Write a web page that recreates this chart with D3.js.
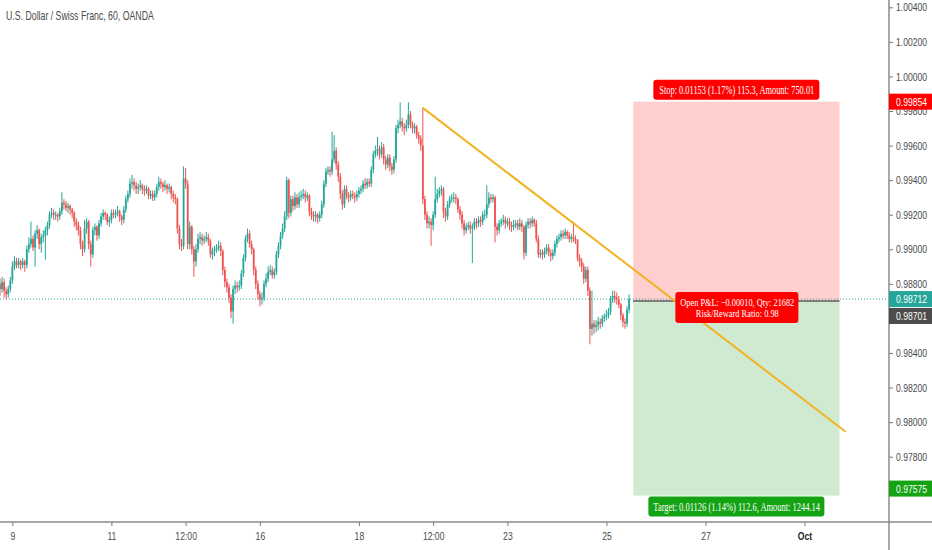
<!DOCTYPE html>
<html>
<head>
<meta charset="utf-8">
<script src="https://cdn.jsdelivr.net/npm/d3@7"></script>
<style>
  body { margin: 0; background: #fff; }
  svg { display: block; }
</style>
</head>
<body>
<div id="chart"></div>
<script>
// Script globals
const CHART_WIDTH = 932
const CHART_HEIGHT = 550
const PLOT_RIGHT = 889
const AXIS_Y = 522
const AXIS_FONT = "'Liberation Sans', Arial, sans-serif"
const LABEL_FONT = "'Liberation Serif', 'DejaVu Serif', serif"
const NARROW = 0.75   // the chart font is a narrow one, squeeze Liberation Sans to match

const title = "U.S. Dollar / Swiss Franc, 60, OANDA"

// hourly candles, open = previous close
const firstOpen = 0.9880
const closes = [
  0.9877,0.9881,0.9876,0.9874,0.9877,0.9882,0.9890,0.9893,0.9891,0.9893,
  0.9891,0.9893,0.9891,0.9900,0.9903,0.9906,0.9901,0.9909,0.9911,0.9903,
  0.9907,0.9908,0.9911,0.9914,0.9920,0.9921,0.9920,0.9920,0.9919,0.9922,
  0.9927,0.9926,0.9924,0.9925,0.9923,0.9921,0.9916,0.9914,0.9911,0.9903,
  0.9900,0.9912,0.9916,0.9903,0.9897,0.9911,0.9913,0.9908,0.9915,0.9919,
  0.9921,0.9920,0.9916,0.9917,0.9921,0.9920,0.9921,0.9922,0.9919,0.9917,
  0.9923,0.9929,0.9932,0.9938,0.9939,0.9937,0.9935,0.9936,0.9937,0.9935,
  0.9934,0.9935,0.9931,0.9932,0.9930,0.9932,0.9936,0.9939,0.9938,0.9936,
  0.9937,0.9935,0.9936,0.9932,0.9930,0.9929,0.9912,0.9903,0.9902,0.9941,
  0.9938,0.9903,0.9913,0.9900,0.9893,0.9900,0.9906,0.9907,0.9905,0.9906,
  0.9907,0.9905,0.9897,0.9899,0.9900,0.9901,0.9902,0.9899,0.9888,0.9881,
  0.9878,0.9872,0.9864,0.9877,0.9879,0.9878,0.9879,0.9886,0.9895,0.9906,
  0.9909,0.9903,0.9900,0.9888,0.9880,0.9874,0.9871,0.9872,0.9880,0.9883,
  0.9887,0.9888,0.9885,0.9887,0.9897,0.9902,0.9908,0.9912,0.9919,0.9940,
  0.9921,0.9929,0.9925,0.9930,0.9926,0.9930,0.9931,0.9932,0.9930,0.9931,
  0.9922,0.9920,0.9919,0.9920,0.9918,0.9920,0.9926,0.9938,0.9945,0.9946,
  0.9945,0.9952,0.9957,0.9949,0.9942,0.9932,0.9926,0.9935,0.9931,0.9930,
  0.9932,0.9931,0.9930,0.9932,0.9934,0.9935,0.9938,0.9937,0.9939,0.9938,
  0.9946,0.9955,0.9957,0.9958,0.9955,0.9959,0.9952,0.9949,0.9953,0.9948,
  0.9946,0.9952,0.9970,0.9972,0.9974,0.9971,0.9970,0.9972,0.9978,0.9972,
  0.9970,0.9971,0.9966,0.9964,0.9960,0.9929,0.9920,0.9915,0.9916,0.9914,
  0.9920,0.9929,0.9932,0.9934,0.9935,0.9922,0.9919,0.9926,0.9929,0.9930,
  0.9930,0.9929,0.9923,0.9920,0.9915,0.9911,0.9913,0.9914,0.9912,0.9913,
  0.9916,0.9915,0.9917,0.9916,0.9920,0.9920,0.9926,0.9930,0.9929,0.9930,
  0.9913,0.9911,0.9915,0.9916,0.9917,0.9915,0.9916,0.9914,0.9913,0.9914,
  0.9915,0.9913,0.9915,0.9913,0.9898,0.9914,0.9916,0.9915,0.9917,0.9915,
  0.9906,0.9897,0.9898,0.9897,0.9899,0.9901,0.9898,0.9896,0.9898,0.9903,
  0.9906,0.9907,0.9909,0.9908,0.9910,0.9908,0.9906,0.9907,0.9906,0.9905,
  0.9895,0.9893,0.9890,0.9883,0.9888,0.9876,0.9854,0.9857,0.9855,0.9856,
  0.9858,0.9857,0.9860,0.9861,0.9862,0.9864,0.9871,0.9873,0.9872,0.9871,
  0.9868,0.9862,0.9858,0.9857,0.9865,0.98712
]
const highs = [
  0.9883,0.9884,0.9883,0.9878,0.9879,0.9884,0.9893,0.9896,0.9895,0.9895,
  0.9894,0.9895,0.9894,0.9902,0.9907,0.9916,0.9908,0.9911,0.9914,0.9912,
  0.9909,0.9911,0.9913,0.9916,0.9922,0.9924,0.9923,0.9922,0.9921,0.9924,
  0.9933,0.9929,0.9928,0.9927,0.9926,0.9924,0.9922,0.9918,0.9916,0.9913,
  0.9905,0.9917,0.9918,0.9917,0.9905,0.9913,0.9915,0.9914,0.9917,0.9921,
  0.9923,0.9922,0.9921,0.9919,0.9923,0.9923,0.9923,0.9925,0.9923,0.9920,
  0.9925,0.9931,0.9934,0.9941,0.9943,0.9941,0.9939,0.9938,0.9940,0.9938,
  0.9937,0.9937,0.9936,0.9934,0.9934,0.9934,0.9938,0.9942,0.9941,0.9939,
  0.9940,0.9938,0.9938,0.9937,0.9934,0.9932,0.9930,0.9914,0.9906,0.9948,
  0.9947,0.9940,0.9916,0.9914,0.9902,0.9903,0.9909,0.9910,0.9909,0.9908,
  0.9910,0.9909,0.9906,0.9901,0.9902,0.9903,0.9905,0.9904,0.9900,0.9890,
  0.9883,0.9880,0.9874,0.9879,0.9882,0.9881,0.9882,0.9888,0.9897,0.9908,
  0.9912,0.9911,0.9905,0.9901,0.9890,0.9882,0.9876,0.9875,0.9882,0.9886,
  0.9890,0.9891,0.9890,0.9889,0.9899,0.9904,0.9910,0.9915,0.9922,0.9942,
  0.9941,0.9931,0.9931,0.9933,0.9932,0.9933,0.9934,0.9935,0.9934,0.9933,
  0.9932,0.9924,0.9922,0.9922,0.9921,0.9922,0.9928,0.9940,0.9947,0.9948,
  0.9948,0.9968,0.9966,0.9959,0.9951,0.9944,0.9934,0.9937,0.9937,0.9933,
  0.9934,0.9934,0.9933,0.9934,0.9936,0.9937,0.9940,0.9941,0.9941,0.9941,
  0.9948,0.9957,0.9960,0.9965,0.9960,0.9962,0.9961,0.9954,0.9955,0.9955,
  0.9950,0.9954,0.9972,0.9975,0.9985,0.9976,0.9973,0.9975,0.9985,0.9980,
  0.9974,0.9973,0.9972,0.9968,0.9966,0.9982,0.9931,0.9922,0.9919,0.9918,
  0.9922,0.9942,0.9935,0.9936,0.9937,0.9936,0.9924,0.9928,0.9931,0.9932,
  0.9933,0.9932,0.9930,0.9925,0.9922,0.9917,0.9915,0.9916,0.9916,0.9915,
  0.9918,0.9918,0.9919,0.9919,0.9922,0.9923,0.9937,0.9933,0.9932,0.9932,
  0.9931,0.9915,0.9917,0.9918,0.9920,0.9919,0.9918,0.9918,0.9916,0.9917,
  0.9917,0.9917,0.9918,0.9917,0.9914,0.9916,0.9918,0.9918,0.9919,0.9918,
  0.9917,0.9908,0.9900,0.9900,0.9901,0.9903,0.9903,0.9900,0.9900,0.9905,
  0.9908,0.9909,0.9911,0.9911,0.9912,0.9911,0.9910,0.9909,0.9916,0.9908,
  0.9906,0.9897,0.9895,0.9892,0.9890,0.9890,0.9878,0.9876,0.9859,0.9859,
  0.9861,0.9860,0.9862,0.9863,0.9865,0.9866,0.9873,0.9876,0.9876,0.9875,
  0.9873,0.9869,0.9863,0.9860,0.9867,0.9874
]
const lows = [
  0.9873,0.9875,0.9872,0.9871,0.9872,0.9875,0.9880,0.9888,0.9889,0.9889,
  0.9888,0.9889,0.9887,0.9889,0.9898,0.9901,0.9899,0.9890,0.9906,0.9900,
  0.9898,0.9904,0.9894,0.9908,0.9912,0.9918,0.9917,0.9917,0.9916,0.9917,
  0.9920,0.9923,0.9922,0.9921,0.9920,0.9918,0.9913,0.9911,0.9908,0.9900,
  0.9896,0.9898,0.9909,0.9900,0.9890,0.9895,0.9908,0.9905,0.9906,0.9913,
  0.9917,0.9917,0.9914,0.9913,0.9915,0.9918,0.9918,0.9919,0.9916,0.9914,
  0.9915,0.9921,0.9927,0.9930,0.9935,0.9934,0.9932,0.9932,0.9934,0.9932,
  0.9931,0.9932,0.9929,0.9929,0.9928,0.9928,0.9930,0.9934,0.9935,0.9933,
  0.9934,0.9932,0.9933,0.9929,0.9927,0.9926,0.9909,0.9900,0.9899,0.9900,
  0.9935,0.9900,0.9900,0.9897,0.9884,0.9890,0.9898,0.9903,0.9902,0.9903,
  0.9904,0.9902,0.9895,0.9894,0.9896,0.9898,0.9899,0.9896,0.9885,0.9878,
  0.9875,0.9869,0.9860,0.9857,0.9874,0.9875,0.9876,0.9877,0.9884,0.9893,
  0.9904,0.9901,0.9897,0.9885,0.9877,0.9871,0.9867,0.9868,0.9870,0.9878,
  0.9881,0.9885,0.9883,0.9883,0.9885,0.9895,0.9900,0.9906,0.9910,0.9917,
  0.9918,0.9919,0.9922,0.9923,0.9924,0.9924,0.9928,0.9929,0.9927,0.9928,
  0.9919,0.9917,0.9916,0.9916,0.9915,0.9916,0.9918,0.9924,0.9936,0.9943,
  0.9942,0.9943,0.9950,0.9946,0.9939,0.9929,0.9923,0.9924,0.9929,0.9927,
  0.9928,0.9929,0.9927,0.9928,0.9930,0.9932,0.9933,0.9935,0.9935,0.9936,
  0.9936,0.9944,0.9953,0.9954,0.9952,0.9953,0.9949,0.9946,0.9947,0.9945,
  0.9943,0.9944,0.9950,0.9967,0.9970,0.9968,0.9966,0.9968,0.9970,0.9970,
  0.9967,0.9967,0.9964,0.9961,0.9957,0.9926,0.9917,0.9912,0.9912,0.9902,
  0.9911,0.9918,0.9927,0.9930,0.9931,0.9918,0.9916,0.9917,0.9924,0.9927,
  0.9927,0.9926,0.9921,0.9917,0.9912,0.9908,0.9909,0.9911,0.9909,0.9892,
  0.9911,0.9912,0.9913,0.9913,0.9914,0.9917,0.9918,0.9924,0.9927,0.9927,
  0.9904,0.9908,0.9909,0.9913,0.9914,0.9912,0.9913,0.9911,0.9910,0.9911,
  0.9912,0.9911,0.9911,0.9910,0.9894,0.9896,0.9912,0.9912,0.9913,0.9913,
  0.9904,0.9895,0.9895,0.9894,0.9895,0.9897,0.9896,0.9893,0.9894,0.9896,
  0.9901,0.9904,0.9905,0.9906,0.9906,0.9906,0.9904,0.9904,0.9904,0.9903,
  0.9893,0.9890,0.9887,0.9880,0.9881,0.9873,0.9845,0.9850,0.9851,0.9852,
  0.9853,0.9854,0.9855,0.9858,0.9859,0.9860,0.9862,0.9869,0.9869,0.9868,
  0.9866,0.9859,0.9855,0.9854,0.9855,0.9863
]

// time axis (bar index of each label)
const xTickBars = [6, 54, 90, 126, 174, 210, 246, 294, 342, 390]
const xTickLabels = ["9", "11", "12:00", "16", "18", "12:00", "23", "25", "27", "Oct"]
const yTickValues = [0.978, 0.980, 0.982, 0.984, 0.988, 0.990, 0.992, 0.994, 0.996, 0.998, 1.000, 1.002, 1.004]

// long position tool + trend line
const lastPrice = 0.98712
const entryPrice = 0.98701
const stopPrice = 0.99854
const targetPrice = 0.97575
const positionBars = [307, 407]
const trendBars = [205, 410]
const trendPrices = [0.99818, 0.97944]
const stopText = "Stop: 0.01153 (1.17%) 115.3, Amount: 750.01"
const pnlLines = ["Open P&L: \u22120.00010, Qty: 21682", "Risk/Reward Ratio: 0.98"]
const pnlWidths = [114, 83]
const targetText = "Target: 0.01126 (1.14%) 112.6, Amount: 1244.14"

const UP = "#26a69a", DOWN = "#ef5350"

init()

/**
 * squeeze a text horizontally with a transform (no narrow font installed)
 */
function squeezeNode (node, factor) {
  const t = d3.select(node)
  const x0 = +t.attr("x") || 0
  t.attr("x", x0 / factor).attr("transform", `scale(${factor},1)`)
}

function squeeze (sel, factor) {
  sel.each(function () { squeezeNode(this, factor) })
}

// squeeze each text to the width it has in the picture
function fit (sel, width) {
  sel.each(function (d, i) {
    const w = typeof width === "function" ? width(d, i) : width
    squeezeNode(this, w / this.getComputedTextLength())
  })
}

function init () {
  const svg = d3.select("#chart").append("svg")
    .attr("width", CHART_WIDTH)
    .attr("height", CHART_HEIGHT)
    .style("background", "#fff")

  const x = d3.scaleLinear().domain([0, 431]).range([0, PLOT_RIGHT])
  const y = d3.scaleLinear().domain([0.978, 1.004]).range([456.7, 7.3])

  const data = closes.map((c, i) => ({
    i: i,
    o: i === 0 ? firstOpen : closes[i - 1],
    c: c,
    h: highs[i],
    l: lows[i]
  }))

  const plot = svg.append("g").attr("class", "plot")

  // position tool regions
  plot.append("rect")
    .attr("x", x(positionBars[0])).attr("width", x(positionBars[1]) - x(positionBars[0]))
    .attr("y", y(stopPrice)).attr("height", y(entryPrice) - y(stopPrice))
    .attr("fill", "#ffcfcf")
  plot.append("rect")
    .attr("x", x(positionBars[0])).attr("width", x(positionBars[1]) - x(positionBars[0]))
    .attr("y", y(entryPrice)).attr("height", y(targetPrice) - y(entryPrice))
    .attr("fill", "#cfead0")

  // last price dotted line
  plot.append("line")
    .attr("x1", 0).attr("x2", PLOT_RIGHT)
    .attr("y1", y(lastPrice)).attr("y2", y(lastPrice))
    .attr("stroke", UP).attr("stroke-width", 1)
    .attr("stroke-dasharray", "1,2")

  // candles
  const candle = plot.selectAll("g.candle").data(data).enter().append("g")
    .attr("class", "candle")
  candle.append("line")
    .attr("x1", d => x(d.i)).attr("x2", d => x(d.i))
    .attr("y1", d => y(d.h)).attr("y2", d => y(d.l))
    .attr("stroke", d => d.c >= d.o ? UP : DOWN)
    .attr("stroke-width", 1)
  candle.append("rect")
    .attr("x", d => x(d.i) - 0.9)
    .attr("width", 1.8)
    .attr("y", d => y(Math.max(d.o, d.c)))
    .attr("height", d => Math.max(1, Math.abs(y(d.o) - y(d.c))))
    .attr("fill", d => d.c >= d.o ? UP : DOWN)

  // entry line
  plot.append("line")
    .attr("x1", x(positionBars[0])).attr("x2", x(positionBars[1]))
    .attr("y1", y(entryPrice)).attr("y2", y(entryPrice))
    .attr("stroke", "#5d5d5d").attr("stroke-width", 1.5)

  const cx = (x(positionBars[0]) + x(positionBars[1])) / 2

  // stop label
  plot.append("rect")
    .attr("x", cx - 83).attr("width", 166)
    .attr("y", y(stopPrice) - 22).attr("height", 20)
    .attr("rx", 3).attr("fill", "#ff0000")
  plot.append("text")
    .attr("x", cx - 77).attr("y", y(stopPrice) - 8)
    .attr("fill", "#fff")
    .style("font", "11.5px " + LABEL_FONT)
    .text(stopText)
    .call(fit, 155)

  // target label
  plot.append("rect")
    .attr("x", cx - 88).attr("width", 176)
    .attr("y", y(targetPrice) + 1).attr("height", 20)
    .attr("rx", 3).attr("fill", "#13a313")
  plot.append("text")
    .attr("x", cx - 83).attr("y", y(targetPrice) + 15)
    .attr("fill", "#fff")
    .style("font", "11.5px " + LABEL_FONT)
    .text(targetText)
    .call(fit, 167)

  // trend line
  plot.append("line")
    .attr("x1", x(trendBars[0])).attr("y1", y(trendPrices[0]))
    .attr("x2", x(trendBars[1])).attr("y2", y(trendPrices[1]))
    .attr("stroke", "#f2b320").attr("stroke-width", 2)

  // open P&L label
  plot.append("rect")
    .attr("x", cx - 61).attr("width", 123)
    .attr("y", y(entryPrice) - 9).attr("height", 31)
    .attr("rx", 3).attr("fill", "#ff0000")
  plot.selectAll("text.pnl").data(pnlLines).enter().append("text")
    .attr("class", "pnl")
    .attr("x", (d, i) => cx + 1 - pnlWidths[i] / 2).attr("y", (d, i) => y(entryPrice) + 5 + i * 11.5)
    .attr("fill", "#fff")
    .style("font", "11px " + LABEL_FONT)
    .text(d => d)
    .call(fit, (d, i) => pnlWidths[i])

  // Title
  svg.append("text")
    .attr("x", 6).attr("y", 20)
    .attr("fill", "#4a4a4a")
    .style("font", "12.5px " + AXIS_FONT)
    .text(title)
    .call(fit, 148)

  // Y axis
  const yAxis = svg.append("g")
    .attr("transform", `translate(${PLOT_RIGHT},0)`)
    .call(d3.axisRight(y).tickValues(yTickValues).tickFormat(d3.format(".5f")).tickSize(4).tickPadding(3))
  yAxis.select(".domain").remove()
  yAxis.selectAll(".tick line").attr("stroke", "#777")
  yAxis.selectAll(".tick text").attr("fill", "#4a4a4a").style("font", "11.5px " + AXIS_FONT)
    .call(squeeze, NARROW)

  // X axis
  const xAxis = svg.append("g")
    .attr("transform", `translate(0,${AXIS_Y})`)
    .call(d3.axisBottom(x).tickValues(xTickBars).tickFormat((d, i) => xTickLabels[i]).tickSize(4).tickPadding(6))
  xAxis.select(".domain").remove()
  xAxis.selectAll(".tick line").attr("stroke", "#777")
  xAxis.selectAll(".tick text").attr("fill", "#4a4a4a").style("font", "11.5px " + AXIS_FONT)
  xAxis.selectAll(".tick text").filter(d => d === 390).attr("fill", "#222").style("font-weight", "bold")
  xAxis.selectAll(".tick text").call(squeeze, NARROW)

  // axis border lines
  svg.append("line")
    .attr("x1", 0).attr("x2", CHART_WIDTH).attr("y1", AXIS_Y).attr("y2", AXIS_Y)
    .attr("stroke", "#8a8a8a").attr("stroke-width", 1.5)
  svg.append("line")
    .attr("x1", PLOT_RIGHT).attr("x2", PLOT_RIGHT).attr("y1", 0).attr("y2", CHART_HEIGHT)
    .attr("stroke", "#8a8a8a").attr("stroke-width", 1.5)

  // price labels on the axis
  const priceLabels = [
    { v: stopPrice, dy: 0, fill: "#ff0000" },
    { v: lastPrice, dy: 0, fill: UP },
    { v: entryPrice, dy: 15, fill: "#4c4c4c" },
    { v: targetPrice, dy: -7, fill: "#13a313" }
  ]
  const lbl = svg.selectAll("g.price-label").data(priceLabels).enter().append("g")
    .attr("class", "price-label")
    .attr("transform", d => `translate(${PLOT_RIGHT},${y(d.v) + d.dy})`)
  lbl.append("rect")
    .attr("x", 0).attr("y", -8).attr("width", CHART_WIDTH - PLOT_RIGHT).attr("height", 16)
    .attr("fill", d => d.fill)
  lbl.append("text")
    .attr("x", 7).attr("dy", "0.35em")
    .attr("fill", "#fff")
    .style("font", "11.5px " + AXIS_FONT)
    .text(d => d3.format(".5f")(d.v))
    .call(squeeze, NARROW)
}
</script>
</body>
</html>
